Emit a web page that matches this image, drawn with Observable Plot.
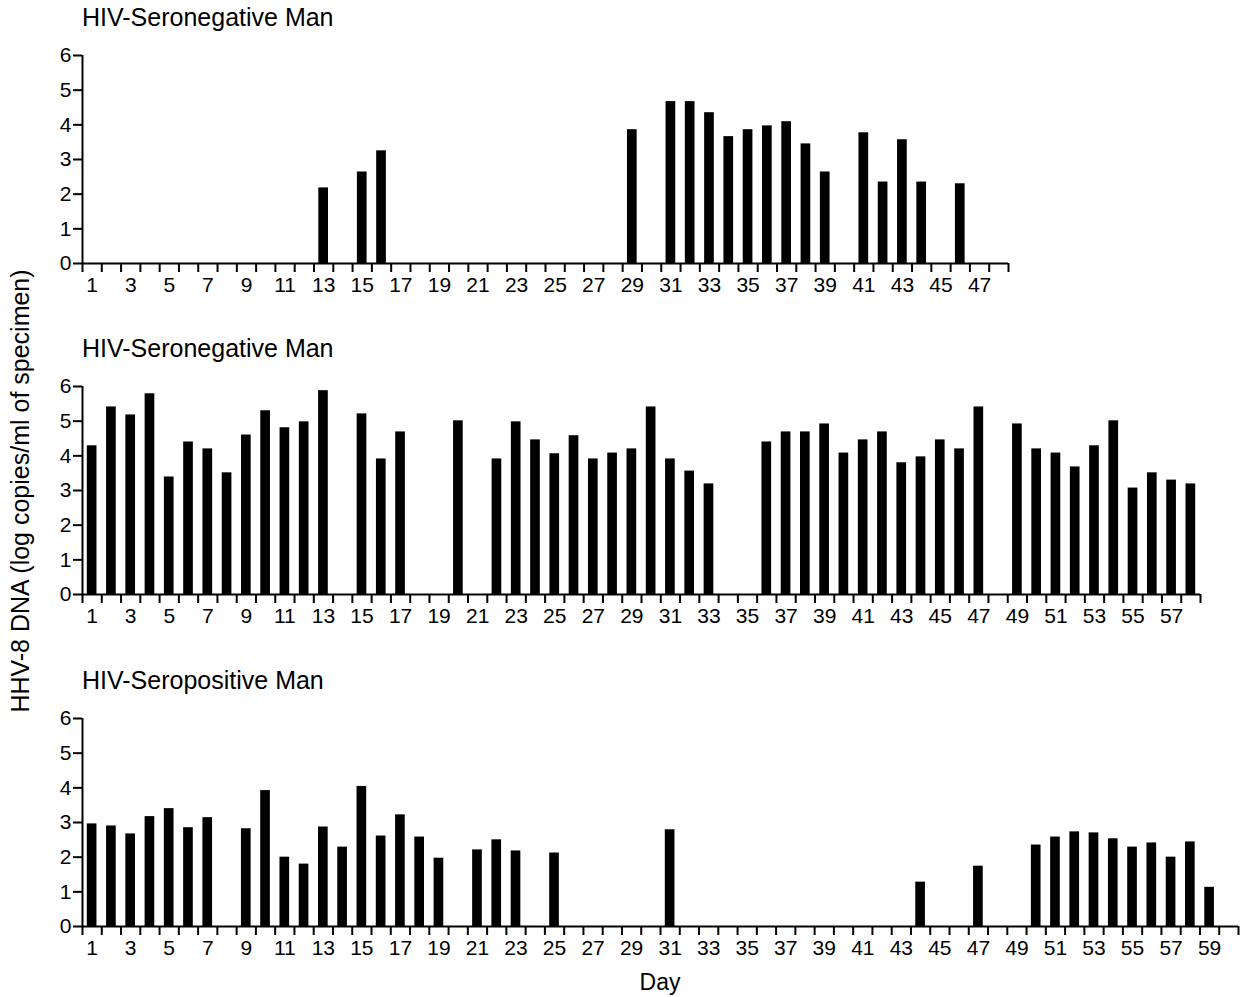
<!DOCTYPE html>
<html>
<head>
<meta charset="utf-8">
<script src="https://cdn.jsdelivr.net/npm/d3@7"></script>
<script src="https://cdn.jsdelivr.net/npm/@observablehq/plot@0.6"></script>
<style>
  html, body { margin: 0; padding: 0; background: #fff; }
  #root { position: relative; width: 1240px; height: 997px; font-family: "Liberation Sans", Arial, Helvetica, sans-serif; color: #000; }
  .title { position: absolute; left: 82px; font-size: 25px; line-height: 25px; white-space: nowrap; }
  #ylab { position: absolute; left: 20px; top: 491px; font-size: 25px; line-height: 25px; white-space: nowrap; transform: translate(-50%, -50%) rotate(-90deg); }
  #xlab { position: absolute; left: 660px; top: 971px; font-size: 23px; line-height: 23px; transform: translateX(-50%); }
</style>
</head>
<body>
<div id="root">
  <div class="title" style="top:5px">HIV-Seronegative Man</div>
  <div class="title" style="top:336px">HIV-Seronegative Man</div>
  <div class="title" style="top:668px">HIV-Seropositive Man</div>
  <div id="ylab">HHV-8 DNA (log copies/ml of specimen)</div>
  <div id="xlab">Day</div>
</div>
<script>
// Panel 1: HIV-Seronegative Man (48 days)
const p1Days = [13, 15, 16, 29, 31, 32, 33, 34, 35, 36, 37, 38, 39, 41, 42, 43, 44, 46];
const p1Vals = [2.18, 2.64, 3.25, 3.86, 4.67, 4.67, 4.35, 3.66, 3.86, 3.97, 4.09, 3.45, 2.64, 3.77, 2.35, 3.57, 2.35, 2.30];
const p1N = 48;
const p1Labels = [1,3,5,7,9,11,13,15,17,19,21,23,25,27,29,31,33,35,37,39,41,43,45,47];

// Panel 2: HIV-Seronegative Man (58 days)
const p2Days = [1,2,3,4,5,6,7,8,9,10,11,12,13,15,16,17,20,22,23,24,25,26,27,28,29,30,31,32,33,36,37,38,39,40,41,42,43,44,45,46,47,49,50,51,52,53,54,55,56,57,58];
const p2Vals = [4.29,5.41,5.18,5.79,3.39,4.40,4.20,3.51,4.60,5.30,4.81,4.98,5.88,5.21,3.91,4.69,5.01,3.91,4.98,4.46,4.06,4.58,3.91,4.08,4.20,5.41,3.91,3.56,3.19,4.40,4.69,4.69,4.92,4.08,4.46,4.69,3.80,3.97,4.46,4.20,5.41,4.92,4.20,4.08,3.68,4.29,5.01,3.07,3.51,3.30,3.19];
const p2N = 58;
const p2Labels = [1,3,5,7,9,11,13,15,17,19,21,23,25,27,29,31,33,35,37,39,41,43,45,47,49,51,53,55,57];

// Panel 3: HIV-Seropositive Man (60 days)
const p3Days = [1,2,3,4,5,6,7,9,10,11,12,13,14,15,16,17,18,19,21,22,23,25,31,44,47,50,51,52,53,54,55,56,57,58,59];
const p3Vals = [2.96,2.90,2.67,3.17,3.40,2.85,3.14,2.82,3.92,2.00,1.80,2.87,2.29,4.04,2.61,3.22,2.58,1.97,2.21,2.50,2.18,2.12,2.79,1.28,1.74,2.35,2.58,2.73,2.70,2.53,2.29,2.41,2.00,2.44,1.13];
const p3N = 60;
const p3Labels = [1,3,5,7,9,11,13,15,17,19,21,23,25,27,29,31,33,35,37,39,41,43,45,47,49,51,53,55,57,59];

const yTicks = [0, 1, 2, 3, 4, 5, 6];

function panel(days, vals, N, labels, top, right) {
  const data = days.map((d, i) => ({day: d, v: vals[i]}));
  const boundaries = d3.range(0, N + 1);
  const labelPos = labels.map(l => l - 0.5);
  const plot = Plot.plot({
    width: right + 2,
    height: 268,
    marginLeft: 82,
    marginRight: 2,
    marginTop: 20,
    marginBottom: 40,
    style: {fontFamily: '"Liberation Sans", Arial, Helvetica, sans-serif', fontSize: "21px", color: "#000", background: "transparent", overflow: "visible"},
    x: {domain: [0, N], axis: null},
    y: {domain: [0, 6], axis: null},
    marks: [
      Plot.rectY(data, {x1: d => d.day - 1, x2: d => d.day, y: "v", fill: "#000", insetLeft: 4.8, insetRight: 4.8}),
      Plot.ruleY([0], {stroke: "#000", strokeWidth: 2}),
      Plot.ruleX([0], {y1: 0, y2: 6, stroke: "#000", strokeWidth: 2}),
      Plot.axisY({ticks: yTicks, label: null, tickSize: 9, tickPadding: 2, strokeWidth: 2, fontSize: 21, tickFormat: d => String(d)}),
      Plot.axisX({ticks: boundaries, label: null, tickSize: 9, strokeWidth: 2, tickFormat: () => ""}),
      Plot.axisX({ticks: labelPos, label: null, tickSize: 0, tickPadding: 14, fontSize: 21, tickFormat: d => String(Math.round(d + 0.5))})
    ]
  });
  plot.style.position = "absolute";
  plot.style.top = top + "px";
  plot.style.left = "0px";
  document.getElementById("root").appendChild(plot);
}

panel(p1Days, p1Vals, p1N, p1Labels, 35, 1008);
panel(p2Days, p2Vals, p2N, p2Labels, 366, 1200);
panel(p3Days, p3Vals, p3N, p3Labels, 698, 1238);
</script>
</body>
</html>
